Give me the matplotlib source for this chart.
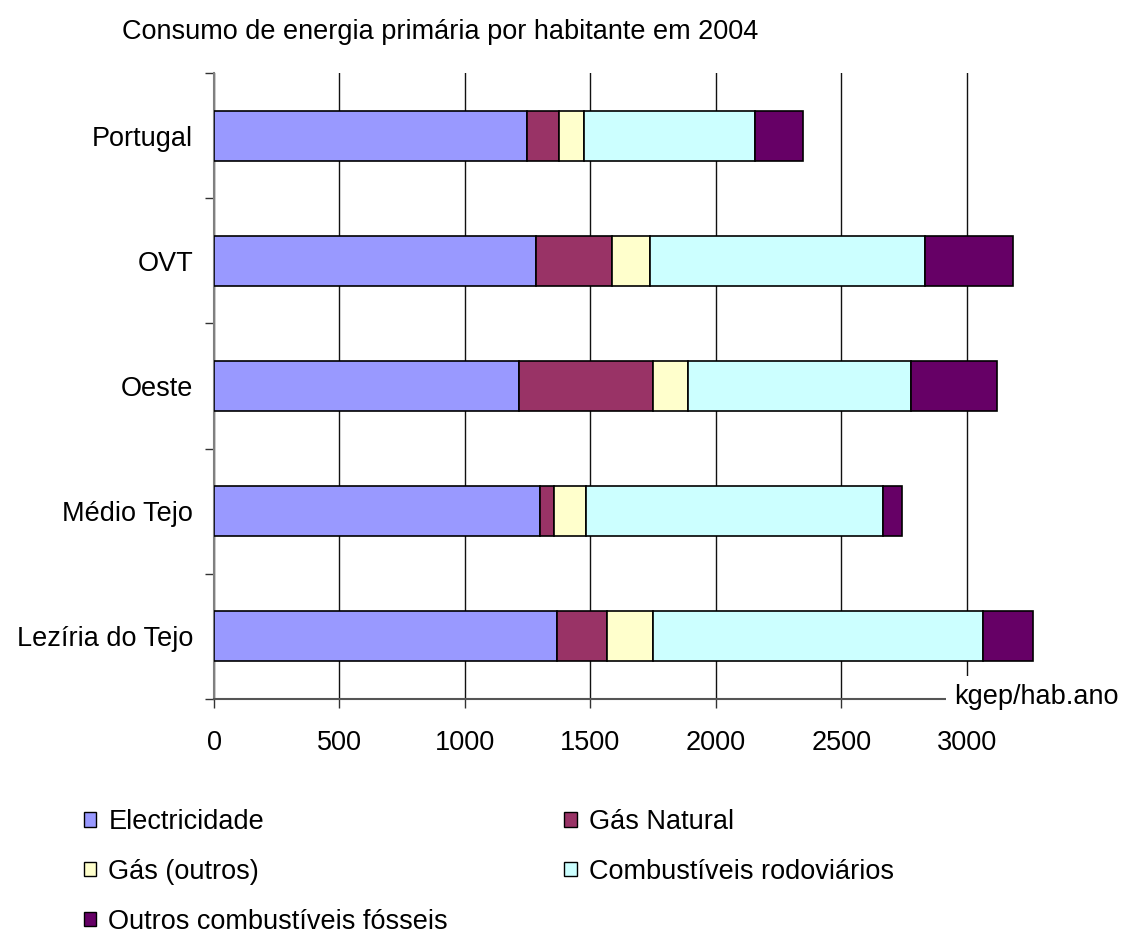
import numpy as np
import matplotlib
matplotlib.use('Agg')
import matplotlib.pyplot as plt
from matplotlib.patches import Patch

plt.rcParams['font.family'] = ['Liberation Sans', 'DejaVu Sans']

# Data (kgep/hab.ano)
regions = ['Portugal', 'OVT', 'Oeste', 'Médio Tejo', 'Lezíria do Tejo']
electricidade = [1247, 1284, 1217, 1301, 1367]
gas_natural = [129, 303, 533, 55, 199]
gas_outros = [97, 152, 138, 127, 184]
comb_rodoviarios = [683, 1096, 890, 1181, 1313]
outros_fosseis = [192, 348, 341, 78, 202]

series = [
    ('Electricidade', electricidade, '#9999FF'),
    ('Gás Natural', gas_natural, '#993366'),
    ('Gás (outros)', gas_outros, '#FFFFCC'),
    ('Combustíveis rodoviários', comb_rodoviarios, '#CCFFFF'),
    ('Outros combustíveis fósseis', outros_fosseis, '#660066'),
]

FS = 19.5
W, H = 1123, 935
fig = plt.figure(figsize=(W / 100, H / 100), dpi=100)
# plot area in pixels: left 214, right ~1076, top 73, bottom 699
ax = fig.add_axes([214 / W, 1 - 699 / H, (1076 - 214) / W, (699 - 73) / H])

y = np.arange(len(regions))
left = np.zeros(len(regions))
handles = {}
for name, vals, color in series:
    vals = np.array(vals, dtype=float)
    ax.barh(y, vals, left=left, height=0.4, color=color,
            edgecolor='black', linewidth=1.2, zorder=3)
    left += vals
    handles[name] = Patch(facecolor=color, edgecolor='black', linewidth=1.0)

ax.set_xlim(0, 3435)
ax.set_ylim(len(regions) - 0.5, -0.5)

# x axis
ax.set_xticks([0, 500, 1000, 1500, 2000, 2500, 3000])
ax.tick_params(axis='x', length=6.5, width=1, color='#333333',
               labelsize=FS, pad=16)
ax.xaxis.grid(True, color='#111111', linewidth=1)
ax.set_axisbelow(True)

# y axis: labels at bar centres, ticks between categories
ax.set_yticks(y)
ax.set_yticklabels(regions)
ax.set_yticks(np.arange(-0.5, len(regions)), minor=True)
ax.tick_params(axis='y', which='major', length=0, labelsize=FS, pad=15)
ax.tick_params(axis='y', which='minor', length=6.5, width=1, color='#333333')

for s in ['top', 'right']:
    ax.spines[s].set_visible(False)
ax.spines['left'].set_color('#808080')
ax.spines['left'].set_linewidth(1.5)
ax.spines['bottom'].set_color('#555555')
ax.spines['bottom'].set_linewidth(1.5)

# unit label sitting on the end of the x axis
fig.text(954 / W, 1 - 697 / H, 'kgep/hab.ano', fontsize=FS,
         ha='left', va='center',
         bbox=dict(facecolor='white', edgecolor='none', pad=6))

fig.text(122 / W, 1 - 32 / H,
         'Consumo de energia primária por habitante em 2004',
         fontsize=FS, ha='left', va='center')

# legend laid out row by row in two columns
order = ['Electricidade', 'Gás (outros)', 'Outros combustíveis fósseis',
         'Gás Natural', 'Combustíveis rodoviários']
fig.legend([handles[n] for n in order], order, ncol=2,
           loc='upper left', bbox_to_anchor=(84 / W, 1 - 809 / H),
           frameon=False, fontsize=FS, borderpad=0, borderaxespad=0,
           handlelength=0.45, handleheight=0.45, handletextpad=0.45,
           labelspacing=0.88, columnspacing=4.3)

fig.savefig('out.png', dpi=100)
